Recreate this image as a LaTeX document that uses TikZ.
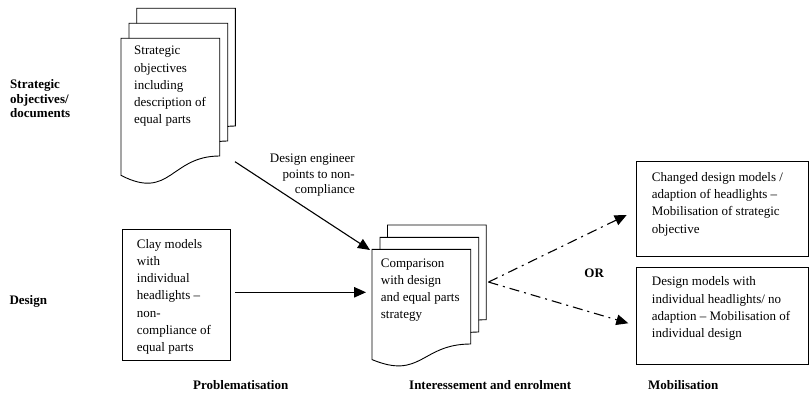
\documentclass[tikz,border=0pt]{standalone}
\usepackage{fontspec}
\setmainfont{Liberation Serif}
\usepackage{tikz}
\usetikzlibrary{arrows.meta, calc, positioning}

\tikzset{
  sheet/.style={draw, fill=white, line width=0.9pt},
  pagenode/.style={inner sep=0pt, outer sep=0pt, anchor=north west},
  boxnode/.style={draw, line width=0.9pt, inner sep=0pt, outer sep=0pt, anchor=north west},
  bodytext/.style={align=left, inner sep=0pt, anchor=north west},
  heading/.style={font=\fontsize{13}{14.7}\selectfont\bfseries, align=left, inner sep=0pt},
  flow/.style={line width=1.1pt, -{Triangle[length=12pt,width=10.5pt]}},
  choice/.style={flow, dash pattern=on 10pt off 5pt on 2pt off 5pt},
}

% one sheet of a document stack: node, height, x offset, y offset
\newcommand{\docsheet}[4]{%
  \draw[sheet] ($(#1.north west)+(#3,#4)$) -- ($(#1.north east)+(#3,#4)$)
    -- ($(#1.south east)+(#3,#4)$)
    .. controls ($(#1.south)+(#3,#4)$) and ($(#1.south)+(#3,#4+0.381*#2)$)
    .. ($(#1.south west)+(#3,#4+0.1646*#2)$) -- cycle;}

\begin{document}
\begin{tikzpicture}[x=1pt, y=-1pt, font=\fontsize{13}{17.2}\selectfont]

        \useasboundingbox (0,0) rectangle (810,393);

        % Strategic objectives document stack
        \node[pagenode, minimum width=98.7pt, minimum height=117.7pt] (strat) at (121,38.3) {};
        \docsheet{strat}{117.7}{15.7}{-30}
        \docsheet{strat}{117.7}{8}{-15}
        \docsheet{strat}{117.7}{0}{0}
        \node[bodytext] (strattext) at ([shift={(13,4.4)}]strat.north west)
            {\strut Strategic\\objectives\\including\\description of\\equal parts};

        % Clay model box
        \node[boxnode, minimum width=108.4pt, minimum height=131pt] (clay) at (122.3,229) {};
        \node[bodytext] (claytext) at ([shift={(14.4,7)}]clay.north west)
            {\strut Clay models\\with\\individual\\headlights --\\non-\\compliance of\\equal parts};

        % Comparison document stack
        \node[pagenode, minimum width=98.7pt, minimum height=94.7pt] (comp) at (372,249.3) {};
        \docsheet{comp}{94.7}{15.5}{-24.3}
        \docsheet{comp}{94.7}{8}{-12}
        \docsheet{comp}{94.7}{0}{0}
        \node[bodytext] (comptext) at ([shift={(8.7,5.7)}]comp.north west)
            {\strut Comparison\\with design\\and equal parts\\strategy};

        % Outcome boxes on the right
        \node[boxnode, minimum width=171.8pt, minimum height=95pt] (changed) at (636.7,161.7) {};
        \node[bodytext] (changedtext) at ([shift={(15,7.6)}]changed.north west)
            {\strut Changed design models /\\adaption of headlights --\\Mobilisation of strategic\\objective};
        \node[boxnode, minimum width=171.8pt, minimum height=96.7pt] (kept) at (636.7,267.3) {};
        \node[bodytext] (kepttext) at ([shift={(15,6.4)}]kept.north west)
            {\strut Design models with\\individual headlights/ no\\adaption -- Mobilisation of\\individual design};

        % Row and column headings
        \node[heading, anchor=north west] (docrow) at (10,78) {\strut Strategic\\objectives/\\documents};
        \node[heading, anchor=base west] (designrow) at (9.3,304) {Design};
        \node[heading, anchor=base west] (probl) at (193,389) {Problematisation};
        \node[heading, anchor=base west] (inter) at (409,389) {Interessement and enrolment};
        \node[heading, anchor=base west] (mobil) at (648,389) {Mobilisation};
        \node[heading, anchor=base] (alt) at (594.2,277.3) {OR};

        % Arrows
        \node[align=right, inner sep=0pt, anchor=north east, font=\fontsize{13}{15.4}\selectfont]
            (note) at (355,151.9) {\strut Design engineer\\points to non-\\compliance};
        \draw[flow] ([shift={(15.3,5.7)}]strat.south east) -- ([shift={(-2,0.7)}]comp.north west);
        \draw[flow] ([shift={(4.3,-2.2)}]clay.east) -- ($(clay.east -| comp.west)+(-6,-2.2)$);
        \coordinate (fork) at ([shift={(17.8,-14.6)}]comp.east);
        \draw[choice] (fork) -- ([shift={(-10,5.8)}]changed.west);
        \draw[choice] (fork) -- ([shift={(-8.4,7.6)}]kept.west);

\end{tikzpicture}
\end{document}
